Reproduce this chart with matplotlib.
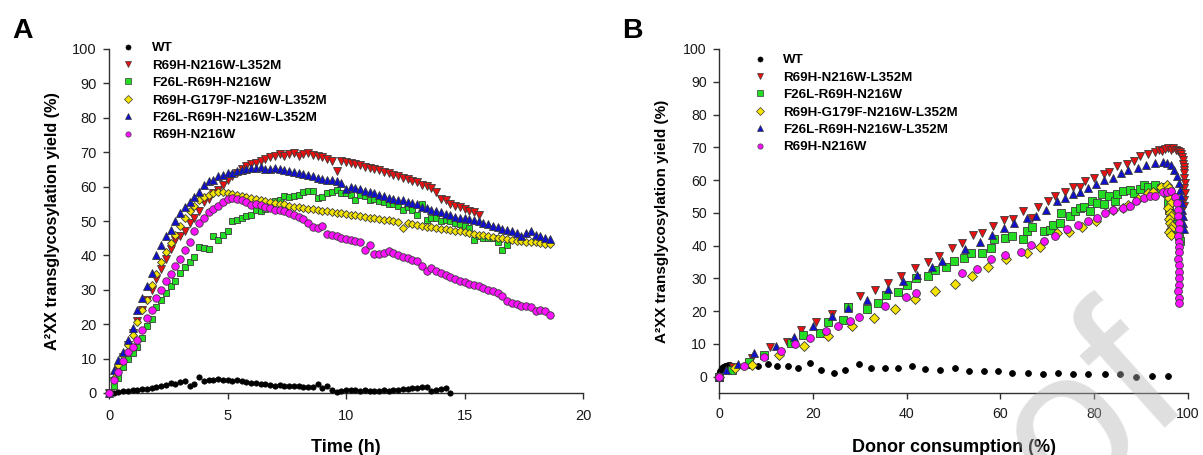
import matplotlib
matplotlib.use('Agg')
import matplotlib.pyplot as plt
from matplotlib.lines import Line2D

plt.rcParams['font.family'] = ['Liberation Sans', 'DejaVu Sans']

# ---------------- data: panel A (time course) ----------------
TIME_A = [0.0, 0.2, 0.4, 0.6, 0.8, 1.0, 1.2, 1.4, 1.6, 1.8,
          2.0, 2.2, 2.4, 2.6, 2.8, 3.0, 3.2, 3.4, 3.6, 3.8,
          4.0, 4.2, 4.4, 4.6, 4.8, 5.0, 5.2, 5.4, 5.6, 5.8,
          6.0, 6.2, 6.4, 6.6, 6.8, 7.0, 7.2, 7.4, 7.6, 7.8,
          8.0, 8.2, 8.4, 8.6, 8.8, 9.0, 9.2, 9.4, 9.6, 9.8,
          10.0, 10.2, 10.4, 10.6, 10.8, 11.0, 11.2, 11.4, 11.6, 11.8,
          12.0, 12.2, 12.4, 12.6, 12.8, 13.0, 13.2, 13.4, 13.6, 13.8,
          14.0, 14.2, 14.4, 14.6, 14.8, 15.0, 15.2, 15.4, 15.6, 15.8,
          16.0, 16.2, 16.4, 16.6, 16.8, 17.0, 17.2, 17.4, 17.6, 17.8,
          18.0, 18.2, 18.4, 18.6]

WT_A = [0, 0.1, 0.2, 0.5, 0.6, 0.8, 0.9, 1.1, 1.2, 1.5,
        1.8, 2.0, 2.2, 2.8, 2.6, 3.1, 3.6, 2.1, 2.7, 4.6,
        3.6, 3.7, 3.9, 4.1, 3.8, 3.7, 3.6, 3.9, 3.5, 3.1,
        2.9, 2.8, 2.7, 2.5, 2.4, 2.1, 2.2, 1.9, 2.0, 1.9,
        1.9, 1.8, 1.7, 1.6, 2.7, 1.5, 1.9, 1.0, 0.4, 0.6,
        1.0, 0.9, 0.8, 0.7, 0.8, 0.6, 0.5, 0.7, 0.8, 0.7,
        0.8, 0.9, 1.1, 1.2, 1.4, 1.5, 1.6, 1.7, 0.5, 1.0,
        1.2, 1.4, 0.0]

RED_A = [0, 3.5, 7, 10.5, 14, 17.5, 21, 24, 27, 30,
         33, 36, 39, 42, 44.5, 45.5, 47, 49.5, 51, 53,
         55.5, 56.5, 58, 59, 60.5, 62, 63, 64, 65, 66,
         66.5, 67, 67.5, 68, 68.5, 69, 69.5, 69, 69.5, 69.7,
         69, 69.4, 69.8, 69.2, 68.8, 68.5, 68, 67.5, 64.5, 67.5,
         67.2, 66.8, 66.5, 66.3, 65.8, 65.5, 65, 64.8, 64.3, 64,
         63.5, 63, 62.5, 62.2, 61.7, 61.2, 60.6, 60.2, 59.5, 58.5,
         56.5, 56, 55, 54.5, 54, 53.5, 53, 52.5, 51.8]

GREEN_A = [0, 2, 4.4, 7.5, 10, 11.5, 13.5, 16, 19.5, 21.5,
           25, 27, 29, 31, 32.5, 35, 36.5, 38, 39.5, 42.5,
           42.2, 42, 45.5, 44.6, 46, 47, 49.9, 50.4, 51, 51.4,
           51.8, 53.3, 52.8, 53.5, 54.7, 55.7, 56, 57.2, 57, 57.2,
           57.7, 58.5, 58.6, 58.6, 56.7, 57, 58.1, 58.5, 58.9, 58.1,
           58, 57.7, 56.2, 57.7, 57.2, 56.2, 56.5, 55.7, 55.5, 55,
           54.8, 54.3, 53.3, 54, 53.3, 51.6, 55, 50.4, 50.8, 50.9,
           49.9, 50.2, 49.9, 49.4, 49, 48.5, 48, 44.6, 45.5, 45,
           45.2, 45, 44, 41.7, 43.1]

YELLOW_A = [0, 4.5, 8, 11, 14, 17, 20.5, 24, 27, 31.5,
            34.5, 38, 41, 43.5, 46, 48.5, 51, 53, 54.5, 56,
            57, 57.5, 58, 58.3, 58.5, 58, 57.8, 57.5, 57.2, 57,
            56.6, 56.3, 56, 55.8, 55.5, 55.2, 55, 54.8, 54.5, 54.2,
            54, 53.8, 53.6, 53.4, 53.2, 53, 52.8, 52.6, 52.4, 52.2,
            52, 51.8, 51.6, 51.4, 51.2, 51, 50.8, 50.6, 50.4, 50.2,
            50, 49.8, 48, 49.3, 49, 48.8, 48.6, 48.4, 48.2, 48,
            47.8, 47.6, 47.4, 47.2, 47, 46.8, 46.6, 46.3, 46, 45.8,
            45.6, 45.4, 45.2, 45, 44.7, 44.5, 44.3, 44.1, 44, 43.9,
            43.8, 43.6, 43.4, 43.2]

BLUE_A = [0, 6.8, 9.7, 12, 15.5, 19, 24, 27.5, 31, 35,
          40, 43, 45.5, 47.5, 50, 52.3, 54, 55.5, 57, 58.5,
          60.5, 61.5, 62, 63, 63.5, 64, 64, 64.4, 64.8, 65,
          65.5, 65.3, 65.6, 65.2, 65, 65.3, 65.1, 64.8, 64.5, 64.3,
          64, 63.6, 63.3, 63, 62.6, 62.3, 62, 61.8, 61.5, 61,
          59.3, 59.8, 59.6, 59.4, 58.8, 58.3, 58, 57.5, 57.2, 56.8,
          56.5, 56.2, 56, 55.6, 55.2, 54.8, 54.2, 53.8, 53.2, 52.8,
          52.5, 52, 51.6, 51.2, 50.8, 50.8, 50.5, 50.3, 50, 49.5,
          49, 48.6, 48.2, 47.8, 47.4, 47, 46.5, 45.6, 46.5, 47,
          46, 45.5, 45.2, 44.8]

MAGENTA_A = [0, 3.9, 6, 9.2, 11.8, 13.5, 15.5, 18.4, 21.8, 24,
             27.5, 30, 32.5, 34.5, 36.8, 39, 41.5, 44, 47, 49.5,
             51, 52.5, 53.5, 54.5, 55.5, 56.4, 56.7, 56.5, 56.2, 55.5,
             54.7, 55, 54.7, 54.2, 53.8, 53.3, 53.2, 52.8, 52.3, 51.8,
             51.2, 50.5, 49.4, 48.4, 48, 48.6, 46.3, 45.8, 45.5, 45.2,
             44.8, 44.5, 44.1, 44, 41.7, 43.1, 40.5, 40.3, 40.7, 41.2,
             40.6, 40.2, 39.6, 39.2, 38.6, 38.3, 36.8, 35.4, 36.3, 35.5,
             34.9, 34.2, 33.6, 33.2, 32.7, 32.2, 31.8, 31.3, 31, 30.5,
             29.8, 29.6, 29, 28.2, 26.8, 26.2, 26, 25.2, 25.4, 25,
             23.7, 24, 23.7, 22.8]

# ---------------- data: panel B (yield vs donor consumption) ----------------
WT_B_X = [0, 0.1, 0.2, 0.3, 0.5, 0.7, 0.9, 1.2, 1.5, 1.9, 2.4,
          3.8, 6.3, 8.4, 10.4, 12.4, 14.8, 16.9, 19.4, 21.7, 24.5,
          26.8, 29.9, 32.4, 35.4, 38.2, 41.1, 44.0, 47.1, 50.4, 53.2,
          56.4, 59.4, 62.5, 65.9, 69.0, 72.2, 75.4, 78.7, 82.2, 85.6,
          88.9, 92.3, 95.7]
WT_B_Y = [0, 0.8, 1.3, 1.7, 2.1, 2.5, 2.8, 3.1, 3.3, 3.5, 3.6,
          3.3, 3.6, 3.3, 3.9, 3.3, 3.1, 2.7, 4.1, 2.0, 1.0,
          2.0, 3.8, 2.7, 2.7, 2.7, 3.1, 2.2, 2.0, 2.7, 1.7,
          1.8, 1.8, 1.2, 1.2, 0.8, 1.0, 0.8, 0.7, 0.8, 0.7,
          0.0, 0.2, 0.2]

RED_B_X = [0, 3, 7, 10.8, 14.5, 17.5, 20.7, 24.2, 27.5, 30.1,
           33.2, 36.1, 38.9, 41.8, 44.5, 47, 49.6, 51.8, 54.1, 56.1,
           58.4, 60.7, 62.7, 64.8, 66.8, 68, 70.1, 71.7, 73.8, 75.4,
           77, 78.1, 79.9, 82, 83.2, 84.8, 86.9, 88.5, 89.8, 91.4,
           93, 93.8, 94.5, 95.2, 95.8, 96.4, 96.9, 97.4, 97.8, 98.2,
           98.5, 98.8, 98.9, 99.0, 99.1, 99.1, 99.2, 99.2, 99.3, 99.2,
           99.3, 99.2, 99.2]
RED_B_Y = [0, 3, 5.6, 9, 10.7, 14.3, 16.8, 19.1, 21.4, 24.6,
           26.3, 28.5, 30.8, 33.1, 35.1, 36.9, 39.2, 40.7, 43.3, 43.8,
           46, 47.7, 48.2, 50.7, 48.4, 51.9, 53.5, 55, 56.5, 58,
           58, 59.6, 60.6, 61.9, 62.6, 64.2, 65, 65.7, 67.2, 68,
           68.7, 69.3, 69, 69.5, 69.7, 69.3, 69.7, 69.2, 69, 68.5,
           68, 67, 66, 65, 64, 63, 62, 60.5, 59, 57.5,
           56, 54, 52]

GREEN_B_X = [0, 2.7, 6.3, 9.5, 15.4, 18, 21.5, 23.2, 26.5, 27.6,
             31.5, 33.8, 35.7, 38.1, 40, 42.1, 44.5, 46.1, 48.3, 50,
             52.3, 53.7, 56, 58, 58.6, 61, 62.5, 64.8, 65.6, 66.8,
             69.3, 70.5, 71.3, 72.7, 72.9, 74.8, 75.8, 77, 77.9, 79.1,
             79.5, 80.7, 82, 81.6, 83.2, 84.4, 84.8, 86.1, 87.7, 88.5,
             89.8, 90.6, 91.4, 93, 94.3, 95.1, 95.6, 95.8, 96.0, 96.3,
             96.6, 96.9, 97.3, 97.7, 98.0, 98.3]
GREEN_B_Y = [0, 2.0, 4.6, 6.6, 10.2, 12.7, 13.2, 16.6, 17.3, 21.4,
             20.7, 22.4, 24.8, 25.9, 28.1, 30.2, 30.7, 32.6, 33.6, 35.3,
             36.1, 37.6, 37.6, 39.2, 42, 42.3, 43, 42, 44.3, 45.8,
             44.3, 44.8, 46.3, 46.8, 49.9, 48.9, 50.7, 51.4, 51.9, 50.7,
             53.5, 53, 52.7, 55.7, 55, 53.5, 55.8, 56.8, 57, 56,
             57.2, 58.6, 58, 58.6, 57.5, 58, 56, 53, 51, 49.5,
             48, 46.5, 45, 44, 43, 41.5]

YELLOW_B_X = [0, 3.5, 7, 12.7, 18.2, 23.2, 28.3, 33.1, 37.5, 41.8,
              46.1, 50.3, 53.9, 57.4, 61.1, 65.6, 68.4, 72.1, 74.6, 77.5,
              80.3, 84, 86.1, 87.3, 89.3, 91.4, 92.6, 94.3, 95.5, 95.9,
              96.2, 96.0, 96.3, 95.8, 96.1, 96.4, 95.9, 96.2, 96.5, 96.3,
              96.0, 96.3]
YELLOW_B_Y = [0, 2.5, 3.6, 6.6, 9.4, 12.4, 15.6, 18, 20.7, 23.6,
              26.1, 28.2, 30.8, 33.5, 35.8, 37.7, 39.7, 43.8, 44.1, 45.6,
              47.6, 50.9, 51.4, 52.4, 54.2, 56, 56.5, 58, 58.6, 57.5,
              56, 54.5, 53, 51.5, 50, 49, 48, 47, 46, 45,
              44, 43.1]

BLUE_B_X = [0, 1.5, 4, 7.5, 12.1, 16, 20, 24, 27.5, 31.5,
            36, 39.2, 42.2, 45.4, 47.5, 52.5, 55.7, 58.2, 60.7, 63,
            65.6, 67.6, 69.7, 72.1, 73.8, 75.4, 77, 78.7, 80.3, 82,
            84, 85.7, 87.3, 89.3, 91, 93, 94.7, 95.6, 96.3, 97,
            97.6, 98, 98.3, 98.5, 98.7, 98.8, 98.9, 99.0, 99.1]
BLUE_B_Y = [0, 2, 4, 7.1, 9.4, 12.2, 15.5, 18.5, 21, 23.4,
            26.7, 29.3, 31, 33.6, 35.3, 38.9, 41.2, 43.2, 45.3, 46.8,
            48.5, 48.9, 50.9, 53.7, 54.5, 55.8, 56.2, 57.5, 58.9, 60.1,
            60.6, 62.1, 63.1, 63.8, 64.7, 65.2, 65.4, 65.3, 64.7, 63,
            61.1, 59, 57, 55, 53, 51, 49, 47, 45]

MAGENTA_B_X = [0, 5.4, 9.5, 13.2, 16.2, 19.4, 22.8, 25.3, 27.9, 29.9,
               35.4, 39.8, 41.9, 51.9, 55.1, 57.9, 61, 64.3, 66.6, 69.3,
               71.6, 74.2, 76.6, 78.7, 80.7, 82.4, 84, 86.1, 87.7, 88.9,
               90.6, 91.8, 93, 94.7, 95.5, 96.3, 97.3, 97.6, 97.8, 97.9,
               98.0, 98.0, 97.9, 98.0, 98.1, 98.0, 97.9, 98.0, 98.0, 98.1,
               98.0, 97.9, 98.0, 98.0]
MAGENTA_B_Y = [0, 3.3, 5.9, 7.9, 9.9, 11.9, 13.9, 15.3, 17, 18.3,
               21.6, 24.4, 25.6, 31.5, 32.9, 35.9, 37.1, 38, 40.2, 41.5,
               42.8, 45, 46.3, 47.4, 48.4, 49.9, 50.9, 51.4, 52.2, 53.5,
               54.5, 55, 55, 56.2, 56.4, 56.7, 54.9, 53, 51, 49,
               47, 45, 43, 41, 39.5, 38, 36, 34, 32, 30,
               28, 26, 24, 22.5]

NAMES = ['WT', 'R69H-N216W-L352M', 'F26L-R69H-N216W',
         'R69H-G179F-N216W-L352M', 'F26L-R69H-N216W-L352M', 'R69H-N216W']
SERIES_A = [WT_A, RED_A, GREEN_A, YELLOW_A, BLUE_A, MAGENTA_A]
SERIES_B = [(WT_B_X, WT_B_Y), (RED_B_X, RED_B_Y), (GREEN_B_X, GREEN_B_Y),
            (YELLOW_B_X, YELLOW_B_Y), (BLUE_B_X, BLUE_B_Y),
            (MAGENTA_B_X, MAGENTA_B_Y)]

# ---------------- styles ----------------
COLORS = ['#000000', '#e81010', '#22dd22', '#f5e400', '#1010cc', '#ff10ff']
MARKERS = ['o', 'v', 's', 'D', '^', 'o']
SIZE_A = [3.8, 5.6, 4.8, 4.4, 5.6, 5.4]
SIZE_B = [4.2, 6.0, 5.2, 4.8, 6.0, 5.6]
EDGE = '#3a3a3a'
AXC = '#303030'

fig = plt.figure(figsize=(12.03, 4.55), dpi=100)
W, H = 1203.0, 455.0
axA = fig.add_axes([109 / W, 1 - 393 / H, 474 / W, 344 / H])
axB = fig.add_axes([719 / W, 1 - 393 / H, 469 / W, 344 / H])


def style_axes(ax, tick_fs):
    for s in ['top', 'right']:
        ax.spines[s].set_visible(False)
    for s in ['left', 'bottom']:
        ax.spines[s].set_color(AXC)
        ax.spines[s].set_linewidth(1.0)
    ax.tick_params(axis='both', direction='out', length=4.3, width=1.0,
                   color=AXC, labelsize=tick_fs, labelcolor='#1a1a1a')
    ax.tick_params(axis='y', pad=4.5)


# Panel A
for i, vals in enumerate(SERIES_A):
    ax_t = TIME_A[:len(vals)]
    ec = '#000000' if i == 0 else EDGE
    axA.plot(ax_t, vals, linestyle='none', marker=MARKERS[i],
             markersize=SIZE_A[i], markerfacecolor=COLORS[i],
             markeredgecolor=ec, markeredgewidth=0.6, clip_on=False,
             zorder=3 + i)
axA.set_xlim(0, 20)
axA.set_ylim(0, 100)
axA.set_xticks([0, 5, 10, 15, 20])
axA.set_yticks(range(0, 101, 10))
style_axes(axA, 10.5)
axA.tick_params(axis='x', pad=7)
axA.set_xlabel('Time (h)', fontsize=13, fontweight='bold')
axA.xaxis.set_label_coords(0.5, -0.158)
axA.xaxis.label.set_verticalalignment('center')
axA.set_ylabel('A²XX transglycosylation yield (%)', fontsize=11.7,
               fontweight='bold')
axA.yaxis.set_label_coords(-0.120, 0.5)
axA.yaxis.label.set_verticalalignment('center')

# Panel B
for i, (xs, ys) in enumerate(SERIES_B):
    ec = '#000000' if i == 0 else EDGE
    axB.plot(xs, ys, linestyle='none', marker=MARKERS[i],
             markersize=SIZE_B[i], markerfacecolor=COLORS[i],
             markeredgecolor=ec, markeredgewidth=0.6, clip_on=False,
             zorder=3 + i)
axB.set_xlim(0, 100)
axB.set_ylim(-5, 100)
axB.set_xticks([0, 20, 40, 60, 80, 100])
axB.set_yticks(range(0, 101, 10))
style_axes(axB, 10.2)
axB.tick_params(axis='x', pad=6)
axB.set_xlabel('Donor consumption (%)', fontsize=13, fontweight='bold')
axB.xaxis.set_label_coords(0.5, -0.158)
axB.xaxis.label.set_verticalalignment('center')
axB.set_ylabel('A²XX transglycosylation yield (%)', fontsize=11.0,
               fontweight='bold')
axB.yaxis.set_label_coords(-0.1226, 0.5)
axB.yaxis.label.set_verticalalignment('center')

# Legends
handles = [Line2D([], [], linestyle='none', marker=MARKERS[i],
                  markersize=3.8 if i else 3.6, markerfacecolor=COLORS[i],
                  markeredgecolor='#000000' if i == 0 else EDGE,
                  markeredgewidth=0.5)
           for i in range(len(NAMES))]
leg_kw = dict(frameon=False, loc='upper left', handlelength=1.0,
              handletextpad=1.26, borderpad=0, borderaxespad=0,
              labelspacing=0.38,
              prop={'family': ['Liberation Sans', 'DejaVu Sans'],
                    'weight': 'bold', 'size': 9.6})
axA.legend(handles, NAMES, bbox_to_anchor=((121.6 - 109) / 474, (393 - 42) / 344),
           **leg_kw)
axB.legend(handles, NAMES, bbox_to_anchor=((753 - 719) / 469, (393 - 54) / 344),
           **leg_kw)

# Panel letters
fig.text(12 / W, 1 - 38 / H, 'A', fontsize=20.5, fontweight='bold', va='baseline')
fig.text(622 / W, 1 - 38 / H, 'B', fontsize=20.5, fontweight='bold', va='baseline')

# Watermark (partly visible, as in the reference)
fig.text(1064 / W, 1 - 512 / H, 'of', fontsize=150, color=(0.7, 0.7, 0.7),
         alpha=0.42, rotation=42, rotation_mode='anchor', ha='left',
         va='baseline', zorder=20)

fig.savefig('out.png', dpi=100)
